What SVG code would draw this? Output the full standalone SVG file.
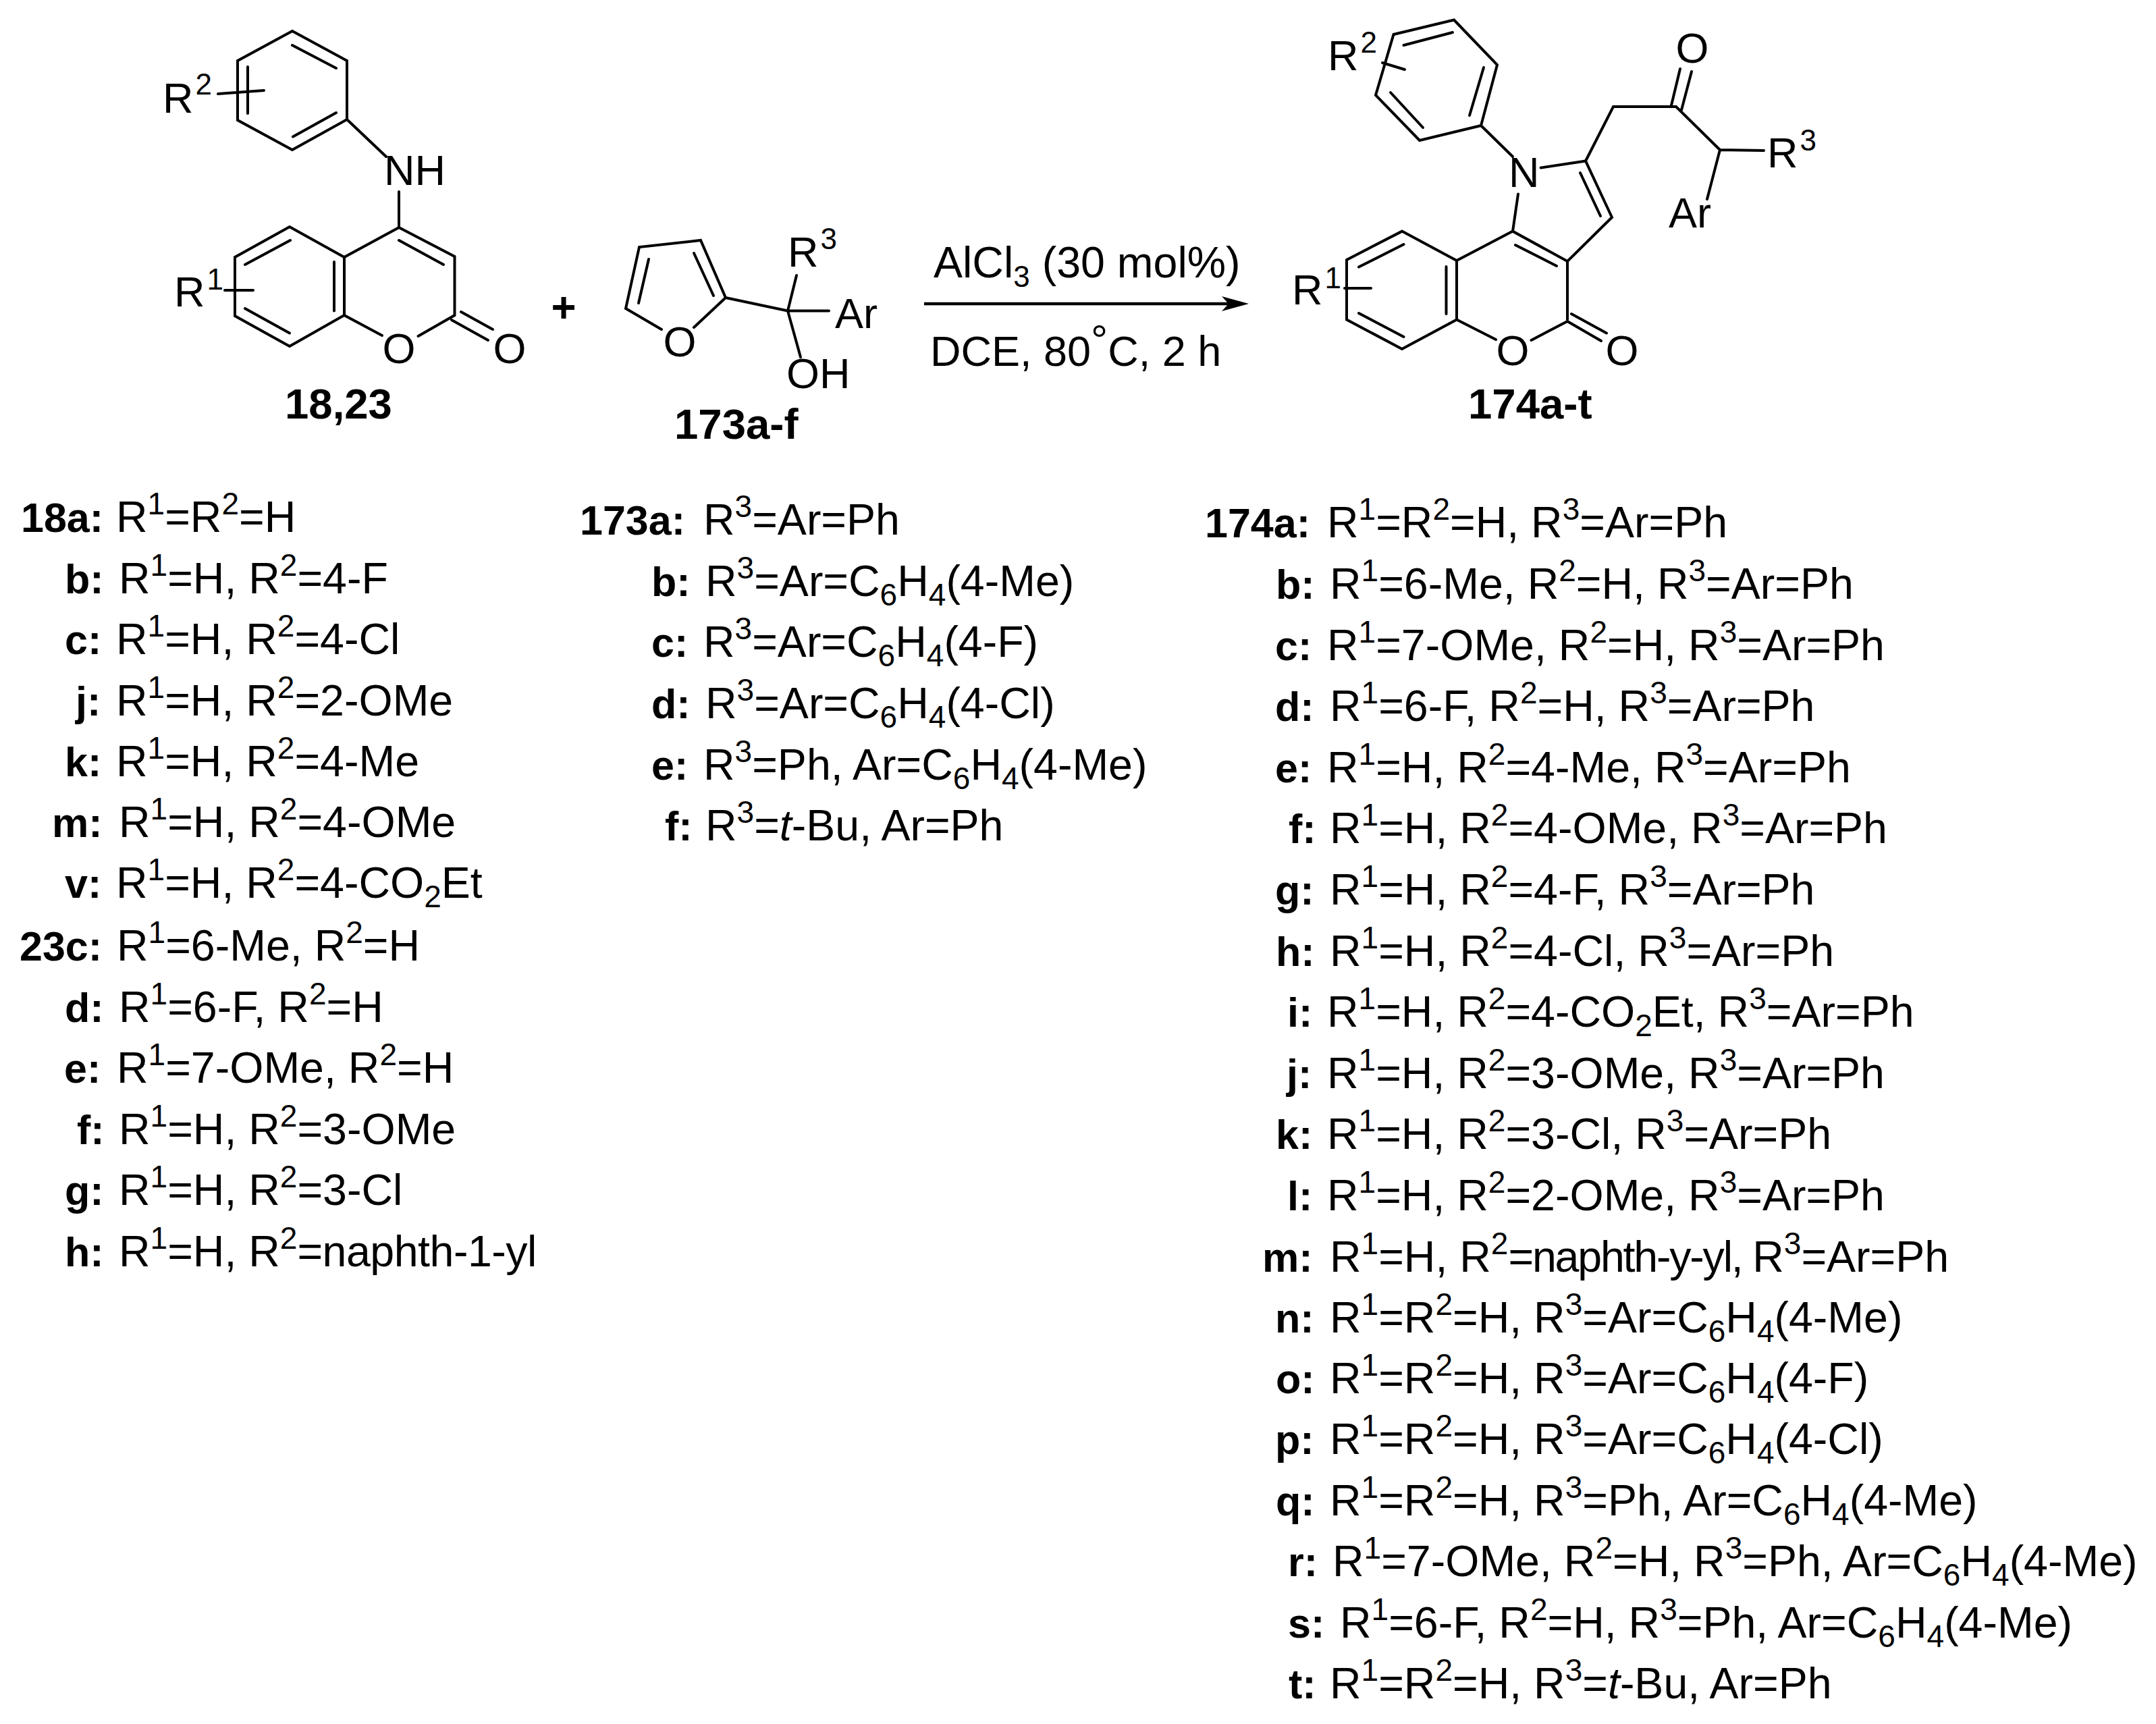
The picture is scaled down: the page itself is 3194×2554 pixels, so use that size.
<svg xmlns="http://www.w3.org/2000/svg" width="3194" height="2554" viewBox="0 0 3194 2554">
<style>
text{font-family:"Liberation Sans",Arial,sans-serif;font-size:63px;fill:#000}
.b{font-weight:bold;font-size:63.5px}
.s{font-size:44px}
.i{font-style:italic}
.m{text-anchor:middle}
.t text{font-size:64.5px}
.t .b{font-size:61px}
.t .s{font-size:46px}
path.bond{fill:none;stroke:#000;stroke-width:4;stroke-linecap:round;stroke-linejoin:miter}
</style>
<defs>
<marker id="head" markerUnits="userSpaceOnUse" markerWidth="42" markerHeight="24" refX="10" refY="11" orient="auto"><path d="M0,0L40,11L0,22L10,11z" fill="#000"/></marker>
</defs>
<rect width="3194" height="2554" fill="#fff"/>
<g id="connectors">
<path d="M1369,450H1820" fill="none" stroke="#000" stroke-width="4.5" marker-end="url(#head)"/>
</g>
<g id="reaction-conditions">
<text x="1383" y="411" style="font-size:64.5px">AlCl<tspan class="s" dy="14">3</tspan><tspan dy="-14"> (30 mol%)</tspan></text>
<text x="1378" y="542">DCE, 80<tspan dy="-16">°</tspan><tspan dy="16">C, 2 h</tspan></text>
</g>
<g id="reactant-18-23">
<path class="bond" d="M433,46L514,90V177L433,222L352,178V90ZM433,67L498,101M498,167L434,202.5M367,99V168M323,139L391,134M514,177L572,232M591,284V336"/>
<path class="bond" d="M591,337L673.5,380V467L619.5,498M566,497L510,467V381L591,337M510,381L429,336L348,381V468L429,513L510,467M591,356L657,392M495,388V460.5M430,356L363,392M363,457L429,493.5M683,462L730,488M669,474L723,504M333,430H375"/>
<text x="241" y="167">R<tspan class="s" dx="3" dy="-27">2</tspan></text>
<text x="569" y="274">NH</text>
<text x="591" y="538" class="m">O</text>
<text x="755" y="538" class="m">O</text>
<text x="258" y="454">R<tspan class="s" dx="3" dy="-25">1</tspan></text>
<text x="422" y="620" class="b">18,23</text>
</g>
<g id="plus"><text x="835" y="477" class="b m">+</text></g>
<g id="reactant-173">
<path class="bond" d="M980,488L927,457L947,366L1038,356L1075,441L1028,485M961,384L946,449M1028,375L1057,438M1075,441L1167,460.5M1167,460.5L1180,408M1167,460.5H1228M1167,460.5L1186,529"/>
<text x="1007" y="528" class="m">O</text>
<text x="1167" y="395">R<tspan class="s" dx="3" dy="-26">3</tspan></text>
<text x="1237" y="486">Ar</text>
<text x="1165" y="575">OH</text>
<text x="999" y="650" class="b">173a-f</text>
</g>
<g id="product-174">
<path class="bond" d="M2154,29.5L2218,96L2194,186L2103,208L2038,141L2064.5,51ZM2152,48L2079.5,67M2198,100L2177,171M2060,137L2108,189M2048,93L2081,103M2194,186L2241,232"/>
<path class="bond" d="M2282.6,248.5L2349,238.5L2388,322L2322,387V473.5M2341,256L2371,320M2249,287.5L2241,342.6L2322,387M2245,363L2306,394M2241,342.6L2158,386L2077,342.6L1995,385V473.5L2077,517L2158,473.5V386M2079.5,362L2013,395.5M2142.5,395V465M2013,464L2079.5,499M2158,473.5L2216,503M2268.5,504L2322,476M2328,465L2380,493.5M2322,476L2372,505M1992,427H2031"/>
<path class="bond" d="M2349,238.5L2390,158H2483L2548,222M2489,102L2476,156M2506,106L2491,163M2548,222L2613,223M2548,222L2529,295"/>
<text x="1967" y="104">R<tspan class="s" dx="3" dy="-26">2</tspan></text>
<text x="2235" y="277">N</text>
<text x="2241" y="541" class="m">O</text>
<text x="2403" y="541" class="m">O</text>
<text x="2507" y="93" class="m">O</text>
<text x="1914" y="451">R<tspan class="s" dx="3" dy="-24">1</tspan></text>
<text x="2618" y="248">R<tspan class="s" dx="3" dy="-25">3</tspan></text>
<text x="2472" y="337">Ar</text>
<text x="2175" y="620" class="b">174a-t</text>
</g>
<g id="table-18-23" class="t">
<text x="31" y="788" class="b">18a:</text><text x="172" y="788">R<tspan class="s" dy="-26">1</tspan><tspan dy="26">=R</tspan><tspan class="s" dy="-26">2</tspan><tspan dy="26">=H</tspan></text>
<text x="96" y="879" class="b">b:</text><text x="176" y="879">R<tspan class="s" dy="-26">1</tspan><tspan dy="26">=H, R</tspan><tspan class="s" dy="-26">2</tspan><tspan dy="26">=4-F</tspan></text>
<text x="96" y="969" class="b">c:</text><text x="172" y="969">R<tspan class="s" dy="-26">1</tspan><tspan dy="26">=H, R</tspan><tspan class="s" dy="-26">2</tspan><tspan dy="26">=4-Cl</tspan></text>
<text x="112" y="1060" class="b">j:</text><text x="172" y="1060">R<tspan class="s" dy="-26">1</tspan><tspan dy="26">=H, R</tspan><tspan class="s" dy="-26">2</tspan><tspan dy="26">=2-OMe</tspan></text>
<text x="96" y="1150" class="b">k:</text><text x="172" y="1150">R<tspan class="s" dy="-26">1</tspan><tspan dy="26">=H, R</tspan><tspan class="s" dy="-26">2</tspan><tspan dy="26">=4-Me</tspan></text>
<text x="77" y="1240" class="b">m:</text><text x="176" y="1240">R<tspan class="s" dy="-26">1</tspan><tspan dy="26">=H, R</tspan><tspan class="s" dy="-26">2</tspan><tspan dy="26">=4-OMe</tspan></text>
<text x="96" y="1330" class="b">v:</text><text x="172" y="1330">R<tspan class="s" dy="-26">1</tspan><tspan dy="26">=H, R</tspan><tspan class="s" dy="-26">2</tspan><tspan dy="26">=4-CO</tspan><tspan class="s" dy="14">2</tspan><tspan dy="-14">Et</tspan></text>
<text x="29" y="1423" class="b">23c:</text><text x="173" y="1423">R<tspan class="s" dy="-26">1</tspan><tspan dy="26">=6-Me, R</tspan><tspan class="s" dy="-26">2</tspan><tspan dy="26">=H</tspan></text>
<text x="96" y="1514" class="b">d:</text><text x="176" y="1514">R<tspan class="s" dy="-26">1</tspan><tspan dy="26">=6-F, R</tspan><tspan class="s" dy="-26">2</tspan><tspan dy="26">=H</tspan></text>
<text x="95" y="1604" class="b">e:</text><text x="173" y="1604">R<tspan class="s" dy="-26">1</tspan><tspan dy="26">=7-OMe, R</tspan><tspan class="s" dy="-26">2</tspan><tspan dy="26">=H</tspan></text>
<text x="114" y="1695" class="b">f:</text><text x="176" y="1695">R<tspan class="s" dy="-26">1</tspan><tspan dy="26">=H, R</tspan><tspan class="s" dy="-26">2</tspan><tspan dy="26">=3-OMe</tspan></text>
<text x="96" y="1785" class="b">g:</text><text x="176" y="1785">R<tspan class="s" dy="-26">1</tspan><tspan dy="26">=H, R</tspan><tspan class="s" dy="-26">2</tspan><tspan dy="26">=3-Cl</tspan></text>
<text x="96" y="1876" class="b">h:</text><text x="176" y="1876">R<tspan class="s" dy="-26">1</tspan><tspan dy="26">=H, R</tspan><tspan class="s" dy="-26">2</tspan><tspan dy="26" letter-spacing="-0.5">=naphth-1-yl</tspan></text>
</g>
<g id="table-173" class="t">
<text x="859" y="792" class="b">173a:</text><text x="1042" y="792">R<tspan class="s" dy="-26">3</tspan><tspan dy="26">=Ar=Ph</tspan></text>
<text x="965" y="883" class="b">b:</text><text x="1045" y="883">R<tspan class="s" dy="-26">3</tspan><tspan dy="26">=Ar=C</tspan><tspan class="s" dy="14">6</tspan><tspan dy="-14">H</tspan><tspan class="s" dy="14">4</tspan><tspan dy="-14">(4-Me)</tspan></text>
<text x="965" y="973" class="b">c:</text><text x="1042" y="973">R<tspan class="s" dy="-26">3</tspan><tspan dy="26">=Ar=C</tspan><tspan class="s" dy="14">6</tspan><tspan dy="-14">H</tspan><tspan class="s" dy="14">4</tspan><tspan dy="-14">(4-F)</tspan></text>
<text x="965" y="1064" class="b">d:</text><text x="1045" y="1064">R<tspan class="s" dy="-26">3</tspan><tspan dy="26">=Ar=C</tspan><tspan class="s" dy="14">6</tspan><tspan dy="-14">H</tspan><tspan class="s" dy="14">4</tspan><tspan dy="-14">(4-Cl)</tspan></text>
<text x="965" y="1155" class="b">e:</text><text x="1042" y="1155">R<tspan class="s" dy="-26">3</tspan><tspan dy="26">=Ph, Ar=C</tspan><tspan class="s" dy="14">6</tspan><tspan dy="-14">H</tspan><tspan class="s" dy="14">4</tspan><tspan dy="-14">(4-Me)</tspan></text>
<text x="985" y="1245" class="b">f:</text><text x="1045" y="1245">R<tspan class="s" dy="-26">3</tspan><tspan dy="26">=</tspan><tspan class="i">t</tspan>-Bu, Ar=Ph</text>
</g>
<g id="table-174" class="t">
<text x="1785" y="796" class="b">174a:</text><text x="1966" y="796">R<tspan class="s" dy="-26">1</tspan><tspan dy="26">=R</tspan><tspan class="s" dy="-26">2</tspan><tspan dy="26">=H, R</tspan><tspan class="s" dy="-26">3</tspan><tspan dy="26">=Ar=Ph</tspan></text>
<text x="1890" y="887" class="b">b:</text><text x="1970" y="887">R<tspan class="s" dy="-26">1</tspan><tspan dy="26">=6-Me, R</tspan><tspan class="s" dy="-26">2</tspan><tspan dy="26">=H, R</tspan><tspan class="s" dy="-26">3</tspan><tspan dy="26">=Ar=Ph</tspan></text>
<text x="1889" y="978" class="b">c:</text><text x="1966" y="978">R<tspan class="s" dy="-26">1</tspan><tspan dy="26">=7-OMe, R</tspan><tspan class="s" dy="-26">2</tspan><tspan dy="26">=H, R</tspan><tspan class="s" dy="-26">3</tspan><tspan dy="26">=Ar=Ph</tspan></text>
<text x="1889" y="1068" class="b">d:</text><text x="1970" y="1068">R<tspan class="s" dy="-26">1</tspan><tspan dy="26">=6-F, R</tspan><tspan class="s" dy="-26">2</tspan><tspan dy="26">=H, R</tspan><tspan class="s" dy="-26">3</tspan><tspan dy="26">=Ar=Ph</tspan></text>
<text x="1889" y="1159" class="b">e:</text><text x="1966" y="1159">R<tspan class="s" dy="-26">1</tspan><tspan dy="26">=H, R</tspan><tspan class="s" dy="-26">2</tspan><tspan dy="26">=4-Me, R</tspan><tspan class="s" dy="-26">3</tspan><tspan dy="26">=Ar=Ph</tspan></text>
<text x="1909" y="1249" class="b">f:</text><text x="1970" y="1249">R<tspan class="s" dy="-26">1</tspan><tspan dy="26">=H, R</tspan><tspan class="s" dy="-26">2</tspan><tspan dy="26">=4-OMe, R</tspan><tspan class="s" dy="-26">3</tspan><tspan dy="26">=Ar=Ph</tspan></text>
<text x="1889" y="1340" class="b">g:</text><text x="1970" y="1340">R<tspan class="s" dy="-26">1</tspan><tspan dy="26">=H, R</tspan><tspan class="s" dy="-26">2</tspan><tspan dy="26">=4-F, R</tspan><tspan class="s" dy="-26">3</tspan><tspan dy="26">=Ar=Ph</tspan></text>
<text x="1890" y="1431" class="b">h:</text><text x="1970" y="1431">R<tspan class="s" dy="-26">1</tspan><tspan dy="26">=H, R</tspan><tspan class="s" dy="-26">2</tspan><tspan dy="26">=4-Cl, R</tspan><tspan class="s" dy="-26">3</tspan><tspan dy="26">=Ar=Ph</tspan></text>
<text x="1907" y="1521" class="b">i:</text><text x="1966" y="1521">R<tspan class="s" dy="-26">1</tspan><tspan dy="26">=H, R</tspan><tspan class="s" dy="-26">2</tspan><tspan dy="26">=4-CO</tspan><tspan class="s" dy="14">2</tspan><tspan dy="-14">Et, R</tspan><tspan class="s" dy="-26">3</tspan><tspan dy="26">=Ar=Ph</tspan></text>
<text x="1906" y="1612" class="b">j:</text><text x="1966" y="1612">R<tspan class="s" dy="-26">1</tspan><tspan dy="26">=H, R</tspan><tspan class="s" dy="-26">2</tspan><tspan dy="26">=3-OMe, R</tspan><tspan class="s" dy="-26">3</tspan><tspan dy="26">=Ar=Ph</tspan></text>
<text x="1890" y="1702" class="b">k:</text><text x="1966" y="1702">R<tspan class="s" dy="-26">1</tspan><tspan dy="26">=H, R</tspan><tspan class="s" dy="-26">2</tspan><tspan dy="26">=3-Cl, R</tspan><tspan class="s" dy="-26">3</tspan><tspan dy="26">=Ar=Ph</tspan></text>
<text x="1907" y="1793" class="b">l:</text><text x="1966" y="1793">R<tspan class="s" dy="-26">1</tspan><tspan dy="26">=H, R</tspan><tspan class="s" dy="-26">2</tspan><tspan dy="26">=2-OMe, R</tspan><tspan class="s" dy="-26">3</tspan><tspan dy="26">=Ar=Ph</tspan></text>
<text x="1870" y="1884" class="b">m:</text><text x="1970" y="1884">R<tspan class="s" dy="-26">1</tspan><tspan dy="26">=H, R</tspan><tspan class="s" dy="-26">2</tspan><tspan dy="26" letter-spacing="-2.2">=naphth-y-yl, </tspan>R<tspan class="s" dy="-26">3</tspan><tspan dy="26">=Ar=Ph</tspan></text>
<text x="1889" y="1974" class="b">n:</text><text x="1970" y="1974">R<tspan class="s" dy="-26">1</tspan><tspan dy="26">=R</tspan><tspan class="s" dy="-26">2</tspan><tspan dy="26">=H, R</tspan><tspan class="s" dy="-26">3</tspan><tspan dy="26">=Ar=C</tspan><tspan class="s" dy="14">6</tspan><tspan dy="-14">H</tspan><tspan class="s" dy="14">4</tspan><tspan dy="-14">(4-Me)</tspan></text>
<text x="1890" y="2064" class="b">o:</text><text x="1970" y="2064">R<tspan class="s" dy="-26">1</tspan><tspan dy="26">=R</tspan><tspan class="s" dy="-26">2</tspan><tspan dy="26">=H, R</tspan><tspan class="s" dy="-26">3</tspan><tspan dy="26">=Ar=C</tspan><tspan class="s" dy="14">6</tspan><tspan dy="-14">H</tspan><tspan class="s" dy="14">4</tspan><tspan dy="-14">(4-F)</tspan></text>
<text x="1889" y="2154" class="b">p:</text><text x="1970" y="2154">R<tspan class="s" dy="-26">1</tspan><tspan dy="26">=R</tspan><tspan class="s" dy="-26">2</tspan><tspan dy="26">=H, R</tspan><tspan class="s" dy="-26">3</tspan><tspan dy="26">=Ar=C</tspan><tspan class="s" dy="14">6</tspan><tspan dy="-14">H</tspan><tspan class="s" dy="14">4</tspan><tspan dy="-14">(4-Cl)</tspan></text>
<text x="1890" y="2245" class="b">q:</text><text x="1970" y="2245">R<tspan class="s" dy="-26">1</tspan><tspan dy="26">=R</tspan><tspan class="s" dy="-26">2</tspan><tspan dy="26">=H, R</tspan><tspan class="s" dy="-26">3</tspan><tspan dy="26">=Ph, Ar=C</tspan><tspan class="s" dy="14">6</tspan><tspan dy="-14">H</tspan><tspan class="s" dy="14">4</tspan><tspan dy="-14">(4-Me)</tspan></text>
<text x="1908" y="2335" class="b">r:</text><text x="1974" y="2335">R<tspan class="s" dy="-26">1</tspan><tspan dy="26">=7-OMe, R</tspan><tspan class="s" dy="-26">2</tspan><tspan dy="26">=H, R</tspan><tspan class="s" dy="-26">3</tspan><tspan dy="26">=Ph, Ar=C</tspan><tspan class="s" dy="14">6</tspan><tspan dy="-14">H</tspan><tspan class="s" dy="14">4</tspan><tspan dy="-14">(4-Me)</tspan></text>
<text x="1908" y="2426" class="b">s:</text><text x="1985" y="2426">R<tspan class="s" dy="-26">1</tspan><tspan dy="26">=6-F, R</tspan><tspan class="s" dy="-26">2</tspan><tspan dy="26">=H, R</tspan><tspan class="s" dy="-26">3</tspan><tspan dy="26">=Ph, Ar=C</tspan><tspan class="s" dy="14">6</tspan><tspan dy="-14">H</tspan><tspan class="s" dy="14">4</tspan><tspan dy="-14">(4-Me)</tspan></text>
<text x="1909" y="2516" class="b">t:</text><text x="1970" y="2516">R<tspan class="s" dy="-26">1</tspan><tspan dy="26">=R</tspan><tspan class="s" dy="-26">2</tspan><tspan dy="26">=H, R</tspan><tspan class="s" dy="-26">3</tspan><tspan dy="26">=</tspan><tspan class="i">t</tspan>-Bu, Ar=Ph</text>
</g>
</svg>
